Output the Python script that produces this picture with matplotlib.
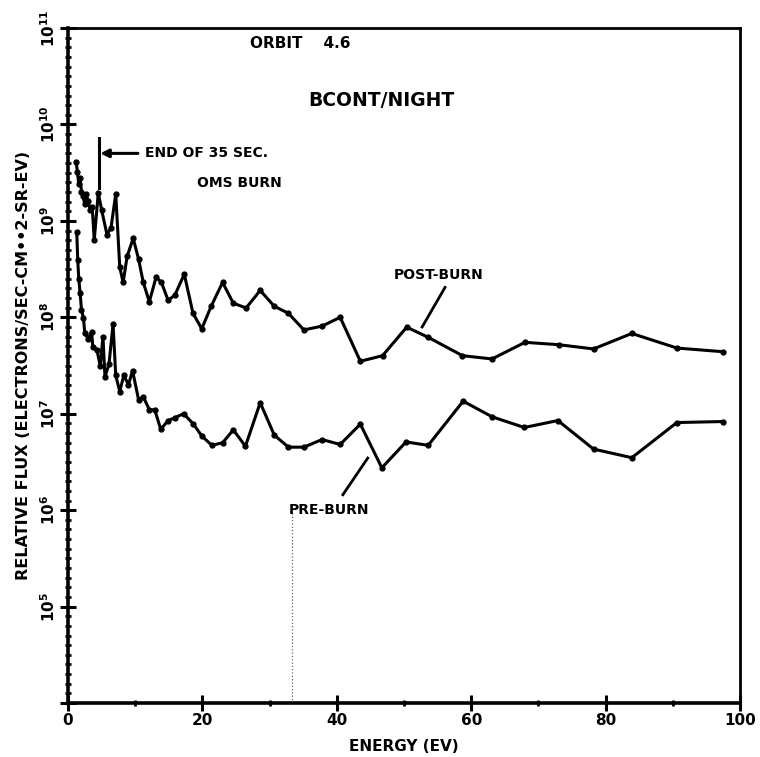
import numpy as np
import matplotlib
matplotlib.use("Agg")
import matplotlib.pyplot as plt
from matplotlib.ticker import (FixedLocator, FuncFormatter, MultipleLocator,
                               NullFormatter)

# energies (eV) and relative flux
post_energy = [1.2, 1.4, 1.6, 1.8, 2.0, 2.2, 2.5, 2.7, 3.0, 3.3, 3.6, 3.9, 4.5,
               5.0, 5.8, 6.4, 7.1, 7.7, 8.2, 8.8, 9.7, 10.5, 11.2, 12.1, 13.1,
               13.9, 14.9, 15.9, 17.3, 18.6, 19.9, 21.3, 23.0, 24.6, 26.5, 28.6,
               30.7, 32.8, 35.1, 37.8, 40.5, 43.5, 46.8, 50.4, 53.6, 58.7, 63.1,
               68.0, 73.0, 78.2, 83.9, 90.6, 97.4]
post_flux = [4.1e9, 3.2e9, 2.4e9, 2.8e9, 2.0e9, 1.8e9, 1.5e9, 1.9e9, 1.6e9,
             1.3e9, 1.4e9, 6.3e8, 1.95e9, 1.3e9, 7.2e8, 8.5e8, 1.9e9, 3.3e8,
             2.3e8, 4.3e8, 6.6e8, 4.0e8, 2.3e8, 1.45e8, 2.6e8, 2.3e8, 1.5e8,
             1.7e8, 2.8e8, 1.1e8, 7.6e7, 1.3e8, 2.3e8, 1.4e8, 1.25e8, 1.9e8,
             1.3e8, 1.1e8, 7.4e7, 8.1e7, 1.0e8, 3.5e7, 4.0e7, 7.9e7, 6.2e7,
             4.0e7, 3.7e7, 5.5e7, 5.2e7, 4.7e7, 6.8e7, 4.8e7, 4.4e7]

pre_energy = [1.3, 1.45, 1.6, 1.8, 2.0, 2.3, 2.5, 3.0, 3.5, 3.7, 4.3, 4.8, 5.2,
              5.5, 6.1, 6.7, 7.1, 7.7, 8.3, 9.0, 9.6, 10.5, 11.2, 12.1, 12.9,
              13.8, 14.9, 15.9, 17.2, 18.6, 19.9, 21.4, 23.0, 24.6, 26.4, 28.6,
              30.7, 32.8, 35.1, 37.8, 40.5, 43.5, 46.7, 50.3, 53.6, 58.8, 63.1,
              67.9, 72.9, 78.2, 83.9, 90.6, 97.4]
pre_flux = [7.6e8, 3.9e8, 2.5e8, 1.8e8, 1.2e8, 9.8e7, 6.8e7, 6.0e7, 7.1e7,
            4.9e7, 4.6e7, 3.1e7, 6.3e7, 2.4e7, 3.3e7, 8.5e7, 2.5e7, 1.7e7,
            2.5e7, 2.0e7, 2.8e7, 1.4e7, 1.5e7, 1.1e7, 1.1e7, 6.9e6, 8.5e6,
            9.1e6, 1.0e7, 7.9e6, 5.9e6, 4.7e6, 5.0e6, 6.8e6, 4.6e6, 1.3e7,
            6.0e6, 4.5e6, 4.5e6, 5.4e6, 4.8e6, 7.8e6, 2.75e6, 5.1e6, 4.7e6,
            1.35e7, 9.3e6, 7.2e6, 8.5e6, 4.3e6, 3.5e6, 8.1e6, 8.3e6]

x_ticks = [0, 20, 40, 60, 80, 100]
y_decades = [1e4, 1e5, 1e6, 1e7, 1e8, 1e9, 1e10, 1e11]
burn_end_energy = 4.6
marker_energy = 33.4

plt.rcParams["font.family"] = "DejaVu Sans"
plt.rcParams["font.weight"] = "bold"

fig = plt.figure(figsize=(7.6, 7.57), dpi=100)
ax = fig.add_axes([0.0895, 0.0713, 0.8842, 0.8917])

for e, f in ((post_energy, post_flux), (pre_energy, pre_flux)):
    ax.plot(e, f, "-o", color="black", lw=2.2, ms=3.5)

ax.set_yscale("log")
ax.set_xlim(0, 100)
ax.set_ylim(1e4, 1e11)

# thin dotted reference line under the PRE-BURN label
ax.plot([marker_energy, marker_energy], [1e4, 9.5e5], ":", color="0.4", lw=0.9)

for side in ("left", "bottom"):
    ax.spines[side].set_linewidth(2.6)
for side in ("top", "right"):
    ax.spines[side].set_linewidth(2.0)

ax.xaxis.set_major_locator(FixedLocator(x_ticks))
ax.xaxis.set_minor_locator(MultipleLocator(10))
ax.yaxis.set_major_locator(FixedLocator(y_decades))
minor_y = [10 ** (k + j / 10) for k in range(4, 11) for j in range(1, 10)]
ax.yaxis.set_minor_locator(FixedLocator(minor_y))
ax.yaxis.set_minor_formatter(NullFormatter())
ax.yaxis.set_major_formatter(FuncFormatter(
    lambda v, p: "" if v < 1e5 else r"$\mathbf{10^{%d}}$" % round(np.log10(v))))
ax.tick_params(which="major", direction="inout", length=12, width=2.2,
               labelsize=11)
ax.tick_params(which="minor", direction="inout", length=4, width=2.0)
ax.tick_params(axis="y", which="major", pad=1)
ax.tick_params(axis="x", which="major", pad=1)
for lab in ax.get_yticklabels():
    lab.set_rotation(90)
    lab.set_va("center")
for lab in ax.get_xticklabels():
    lab.set_fontweight("bold")

ax.set_xlabel("ENERGY (EV)", fontsize=11, fontweight="bold", labelpad=8)
ax.set_ylabel("RELATIVE FLUX (ELECTRONS/SEC-CM\u2022\u20222-SR-EV)",
              fontsize=11.5, fontweight="bold", labelpad=6)

# annotations
ax.text(34.5, 10 ** 10.84, "ORBIT    4.6", fontsize=11, fontweight="bold",
        ha="center", va="center")
ax.text(46.7, 10 ** 10.25, "BCONT/NIGHT", fontsize=13.5, fontweight="bold",
        ha="center", va="center")
ax.plot([burn_end_energy, burn_end_energy], [10 ** 9.34, 10 ** 9.86],
        color="black", lw=2.2)
ax.annotate("", xy=(burn_end_energy + 0.2, 10 ** 9.70),
            xytext=(10.4, 10 ** 9.70),
            arrowprops=dict(arrowstyle="-|>", color="black", lw=2.2,
                            mutation_scale=12, shrinkA=0, shrinkB=0))
ax.text(11.5, 10 ** 9.70, "END OF 35 SEC.", fontsize=10, fontweight="bold",
        ha="left", va="center")
ax.text(19.2, 10 ** 9.39, "OMS BURN", fontsize=10, fontweight="bold",
        ha="left", va="center")

ax.text(48.4, 10 ** 8.44, "POST-BURN", fontsize=10, fontweight="bold",
        ha="left", va="center")
ax.plot([56.1, 52.7], [10 ** 8.31, 10 ** 7.90], color="black", lw=2.0)
ax.text(32.8, 10 ** 6.0, "PRE-BURN", fontsize=10, fontweight="bold",
        ha="left", va="center")
ax.plot([44.6, 40.9], [10 ** 6.54, 10 ** 6.16], color="black", lw=2.0)

fig.savefig("out.png", dpi=100)
